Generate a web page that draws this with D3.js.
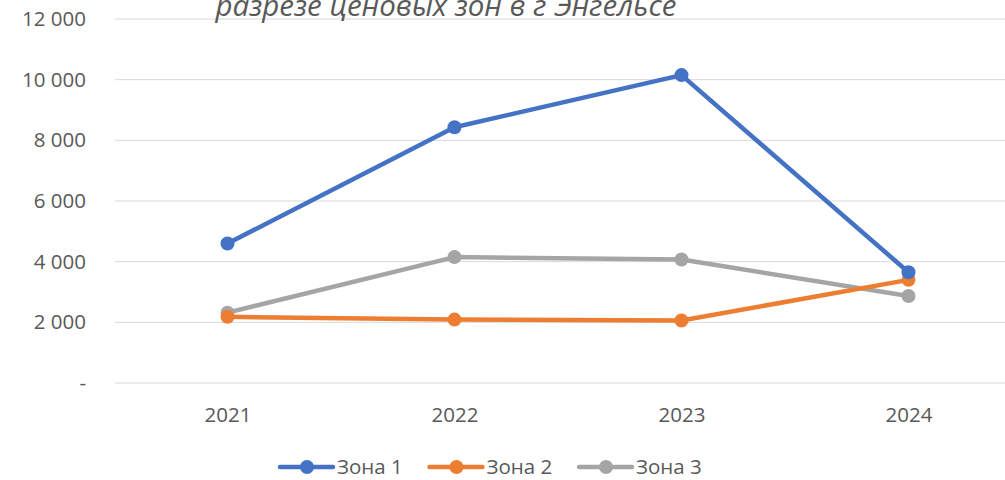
<!DOCTYPE html>
<html>
<head>
<meta charset="utf-8">
<script src="https://cdn.jsdelivr.net/npm/d3@7"></script>
<style>
  body { margin: 0; background: #fff; }
  svg { display: block; font-family: "Open Sans", "Noto Sans", sans-serif; }
  svg text { font-family: "Open Sans", "Noto Sans", sans-serif; }
</style>
</head>
<body>
<div id="chart"></div>
<script>
const years = ['2021', '2022', '2023', '2024'];
const zone1 = [4600, 8430, 10150, 3650];
const zone2 = [2180, 2090, 2060, 3400];
const zone3 = [2320, 4150, 4070, 2870];
const seriesNames = ['Зона 1', 'Зона 2', 'Зона 3'];
const yTicks = [0, 2000, 4000, 6000, 8000, 10000, 12000];
const titleText = 'разрезе ценовых зон в г Энгельсе';

const colors = ['#4472C4', '#ED7D31', '#A5A5A5'];
const series = [zone1, zone2, zone3].map((vals, i) => ({
  name: seriesNames[i],
  color: colors[i],
  values: vals.map((v, j) => ({ year: years[j], value: v }))
}));

const width = 1005;
const height = 480;

const svg = d3.select('#chart')
  .append('svg')
  .attr('width', width)
  .attr('height', height);

const xScale = d3.scalePoint()
  .domain(years)
  .range([114, 1022])
  .padding(0.5);

const yScale = d3.scaleLinear()
  .domain([0, 12000])
  .range([383, 19]);

// gridlines
svg.append('g')
  .selectAll('line')
  .data(yTicks)
  .join('line')
  .attr('x1', 115)
  .attr('x2', width)
  .attr('y1', (d) => yScale(d))
  .attr('y2', (d) => yScale(d))
  .attr('stroke', '#d9d9d9')
  .attr('stroke-width', 1);

// y axis labels
const fmt = (d) => d === 0 ? '-' : d3.format(',')(d).replace(/,/g, ' ');
const yAxis = svg.append('g')
  .attr('transform', 'translate(86,0)')
  .call(d3.axisLeft(yScale).tickValues(yTicks).tickSize(0).tickPadding(0).tickFormat(fmt));
yAxis.select('.domain').remove();
yAxis.selectAll('text')
  .attr('fill', '#595959')
  .style('font-size', '20.5px');

// x axis labels
const xAxis = svg.append('g')
  .attr('transform', 'translate(0,383)')
  .call(d3.axisBottom(xScale).tickSize(0).tickPadding(24));
xAxis.select('.domain').remove();
xAxis.selectAll('text')
  .attr('fill', '#595959')
  .style('font-size', '20.5px');

// title (cut off at top, as in the original)
svg.append('text')
  .attr('x', 446)
  .attr('y', 16)
  .attr('text-anchor', 'middle')
  .attr('fill', '#595959')
  .style('font-size', '29.5px')
  .style('font-style', 'italic')
  .text(titleText);

// lines
const line = d3.line()
  .x((d) => xScale(d.year))
  .y((d) => yScale(d.value));

const groups = svg.append('g')
  .selectAll('g')
  .data(series.slice().reverse())
  .join('g');

groups.append('path')
  .attr('d', (d) => line(d.values))
  .attr('fill', 'none')
  .attr('stroke', (d) => d.color)
  .attr('stroke-width', 4.5)
  .attr('stroke-linejoin', 'round')
  .attr('stroke-linecap', 'round');

groups.selectAll('circle')
  .data((d) => d.values.map((v) => ({ ...v, color: d.color })))
  .join('circle')
  .attr('cx', (d) => xScale(d.year))
  .attr('cy', (d) => yScale(d.value))
  .attr('r', 7)
  .attr('fill', (d) => d.color);

// legend
const legend = svg.append('g')
  .selectAll('g')
  .data(series)
  .join('g')
  .attr('transform', (d, i) => `translate(${280 + i * 149.5},467)`);

legend.append('line')
  .attr('x1', 0)
  .attr('x2', 53)
  .attr('stroke', (d) => d.color)
  .attr('stroke-width', 4.5)
  .attr('stroke-linecap', 'round');

legend.append('circle')
  .attr('cx', 27)
  .attr('r', 7)
  .attr('fill', (d) => d.color);

legend.append('text')
  .attr('x', 57)
  .attr('dy', '0.36em')
  .attr('fill', '#595959')
  .style('font-size', '20.5px')
  .text((d) => d.name);
</script>
</body>
</html>
